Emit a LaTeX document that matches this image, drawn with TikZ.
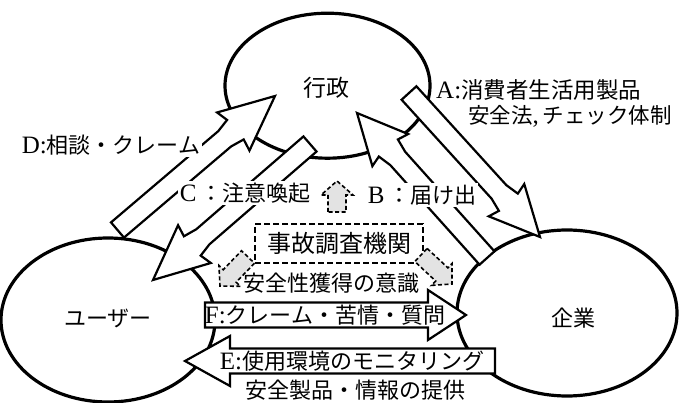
\documentclass[tikz,border=0pt]{standalone}
\usepackage{fontspec}
\setmainfont{Liberation Serif}
\newfontfamily\jp{Noto Sans CJK JP}
\usetikzlibrary{shapes.geometric}

% block arrow: #1 tail, #2 tip, #3 shaft half width, #4 head half width,
% #5 head length, #6 jog length (0 = plain), #7 style
\newcommand{\blockarrow}[7]{%
  \pgfpointdiff{\pgfpointanchor{#1}{center}}{\pgfpointanchor{#2}{center}}%
  \pgfgetlastxy{\badx}{\bady}%
  \pgfmathsetmacro\baang{atan2(\bady,\badx)}%
  \pgfmathsetmacro\balen{veclen(\badx,\bady)}%
  \pgfmathsetmacro\babase{\balen-#5}%
  \pgfmathsetmacro\bajog{\babase-#6}%
  \pgfmathsetmacro\bawj{#3+0.2*#6}%
  \pgfmathsetmacro\babarb{\babase-0.2*#6}%
  \begin{scope}[shift={(#1)},rotate=\baang]
    \ifdim #6pt>0pt
    \draw[#7] (0pt,#3pt) -- (\bajog pt,#3pt) -- (\babase pt,\bawj pt) -- (\babarb pt,#4pt)
      -- (\balen pt,0pt) -- (\babarb pt,-#4pt) -- (\babase pt,-\bawj pt) -- (\bajog pt,-#3pt)
      -- (0pt,-#3pt) -- cycle;
    \else
    \draw[#7] (0pt,#3pt) -- (\babase pt,#3pt) -- (\babase pt,#4pt)
      -- (\balen pt,0pt) -- (\babase pt,-#4pt) -- (\babase pt,-#3pt)
      -- (0pt,-#3pt) -- cycle;
    \fi
  \end{scope}}

\newcommand{\lf}{\fontsize{22}{23}\selectfont}
\newcommand{\la}[1]{{\fontsize{25}{25}\selectfont #1}}

\tikzset{
  region/.style={ellipse, draw, line width=3.2pt, inner sep=0pt, font=\lf\jp},
  blk/.style={draw, fill=white, line width=2.2pt, line join=miter},
  garr/.style={draw, fill=gray!22, line width=1.6pt, dash pattern=on 4pt off 2.5pt},
  lbl/.style={fill=white, inner sep=1.5pt, font=\lf},
  txt/.style={inner sep=1pt, font=\lf},
  atxt/.style={inner sep=0pt, anchor=west, font=\fontsize{22.5}{23}\selectfont},
  dbox/.style={draw, fill=white, line width=1.8pt, dash pattern=on 6pt off 3pt,
    minimum width=168pt, minimum height=39pt, inner sep=0pt,
    font=\fontsize{24}{26}\selectfont\jp}
}

\begin{document}
\begin{tikzpicture}[x=1pt,y=-1pt]
\fill[white] (0,0) rectangle (680,403);
\useasboundingbox (0,0) rectangle (680,403);

% regions
\node[region, minimum width=205pt, minimum height=145pt] (gov) at (327.5,85.7) {};
\node[region, minimum width=214pt, minimum height=164pt] (user) at (108,320) {};
\node[region, minimum width=220pt, minimum height=166pt] (firm) at (567,313) {};
\node[txt, font=\fontsize{23}{24}\selectfont\jp] (govt) at (326,88) {行政};
\node[txt, font=\lf\jp] (usert) at (108,318) {ユーザー};
\node[txt, font=\lf\jp] (firmt) at (573,318) {企業};

% arrow end points
\coordinate (Dt) at (117.5,230); \coordinate (Dh) at (275,96);
\coordinate (Ct) at (310,144);   \coordinate (Ch) at (153,280);
\coordinate (At) at (409,93);    \coordinate (Ah) at (540,237);
\coordinate (Bt) at (487,258);   \coordinate (Bh) at (357,113);
\coordinate (Ft) at (205,315);   \coordinate (Fh) at (466,315);
\coordinate (Et) at (495,361);   \coordinate (Eh) at (185,361);
\coordinate (Gut) at (337,212);  \coordinate (Guh) at (337,181);
\coordinate (Glt) at (248,257);  \coordinate (Glh) at (220,286);
\coordinate (Grt) at (421,255);  \coordinate (Grh) at (452,284);

% big diagonal arrows
\blockarrow{Dt}{Dh}{10}{25}{52}{14}{blk}
\blockarrow{Ct}{Ch}{10}{25}{52}{14}{blk}
\blockarrow{At}{Ah}{10}{24}{47}{14}{blk}
\blockarrow{Bt}{Bh}{10}{24}{47}{14}{blk}

% labels of diagonal arrows
\node[lbl] (lD) at (111,145) {\la{D:}{\jp 相談・クレーム}};
\node[lbl] (lC) at (245,193) {\la{C}\,{\jp ：注意喚起}};
\node[lbl] (lB) at (422,195) {\la{B}\,{\jp ：届け出}};
\node[atxt] (lA1) at (436,90) {\la{A:}{\jp 消費者生活用製品}};
\node[atxt, font=\fontsize{21.5}{22}\selectfont] (lA2) at (468,116) {{\jp 安全法}\la{,}\,{\jp チェック体制}};

% accident investigation body
\node[dbox] (acc) at (339,243.5) {事故調査機関};
\blockarrow{Gut}{Guh}{9}{16}{14}{0}{garr}
\blockarrow{Glt}{Glh}{9}{15}{14}{0}{garr}
\blockarrow{Grt}{Grh}{9}{15}{14}{0}{garr}
\node[txt, font=\lf\jp] (aware) at (331,283) {安全性獲得の意識};

% horizontal arrows
\blockarrow{Ft}{Fh}{12.5}{25}{38}{0}{blk}
\node[txt] (lF) at (325,315) {\la{F:}{\jp クレーム・苦情・質問}};
\blockarrow{Et}{Eh}{12.5}{25}{45}{0}{blk}
\node[txt] (lE) at (352,361) {\la{E:}{\jp 使用環境のモニタリング}};
\node[lbl, font=\lf\jp] (prov) at (355,390) {安全製品・情報の提供};
\end{tikzpicture}
\end{document}
